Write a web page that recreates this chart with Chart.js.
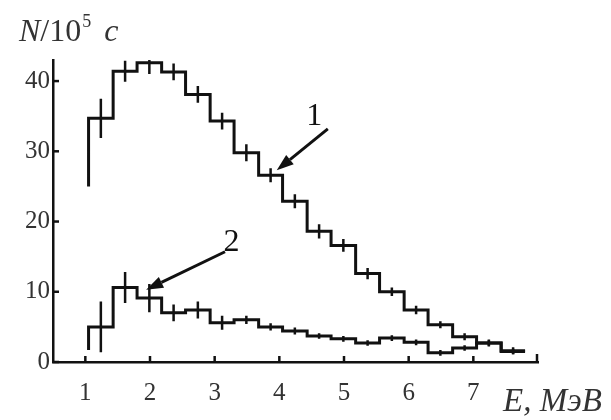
<!DOCTYPE html>
<html>
<head>
<meta charset="utf-8">
<script src="https://cdn.jsdelivr.net/npm/chart.js@4.4.1/dist/chart.umd.min.js"></script>
<style>
  html, body { margin: 0; padding: 0; background: #fff; }
  #wrap { width: 611px; height: 420px; }
</style>
</head>
<body>
<div id="wrap"><canvas id="spectrum" width="611" height="420"></canvas></div>
<script>
// границы каналов по энергии, МэВ
const edges = [1.05, 1.43, 1.80, 2.18, 2.55, 2.93, 3.30, 3.68, 4.05, 4.43, 4.80, 5.18, 5.55, 5.93, 6.30, 6.68, 7.05, 7.43, 7.80];

// спектр 1
const counts1 = [34.7, 41.4, 42.6, 41.3, 38.1, 34.3, 29.8, 26.6, 22.9, 18.6, 16.6, 12.6, 10.0, 7.4, 5.3, 3.6, 2.7, 1.6];
const errors1 = [2.8, 1.5, 1.6, 1.2, 1.2, 1.2, 1.2, 1.0, 1.0, 1.0, 0.9, 0.8, 0.6, 0.6, 0.5, 0.5, 0.5, 0.5];
const start1 = 25;

// спектр 2
const counts2 = [5.0, 10.6, 9.1, 7.0, 7.4, 5.6, 6.0, 5.0, 4.4, 3.7, 3.3, 2.7, 3.4, 2.8, 1.3, 2.0, 2.7, 1.5];
const errors2 = [3.6, 2.2, 2.0, 1.2, 1.2, 1.0, 0.6, 0.5, 0.5, 0.4, 0.4, 0.4, 0.4, 0.4, 0.4, 0.4, 0.4, 0.4];
const start2 = 1.7;

const xTicks = [1, 2, 3, 4, 5, 6, 7];
const yTicks = [0, 10, 20, 30, 40];

// стрелки с номерами кривых: подпись, хвост, острие (в единицах осей)
const notes = [
    { text: '1', label: [4.54, 35.0], from: [4.75, 33.2], to: [3.96, 27.3] },
    { text: '2', label: [3.26, 17.0], from: [3.16, 15.7], to: [1.94, 10.3] }
];

const SERIF = '"Liberation Serif", "Times New Roman", Times, serif';
const INK = '#111';

function stepPoints(values, start) {
    const pts = [{ x: edges[0], y: start }];
    values.forEach((v, i) => {
        pts.push({ x: edges[i], y: v });
        pts.push({ x: edges[i + 1], y: v });
    });
    return pts;
}

function errorPoints(values, errs) {
    const pts = [];
    values.forEach((v, i) => {
        const c = (edges[i] + edges[i + 1]) / 2;
        pts.push({ x: c, y: v - errs[i] });
        pts.push({ x: c, y: v + errs[i] });
        pts.push({ x: c, y: null });
    });
    return pts;
}

function histLine(data, width) {
    return {
        data: data,
        borderColor: INK,
        borderWidth: width,
        pointRadius: 0,
        tension: 0,
        spanGaps: false,
        fill: false
    };
}

// засечки внутрь, стрелки и подписи осей
const decorations = {
    id: 'decorations',
    afterDatasetsDraw(chart) {
        const ctx = chart.ctx;
        const x = chart.scales.x;
        const y = chart.scales.y;
        const area = chart.chartArea;
        ctx.save();
        ctx.strokeStyle = INK;
        ctx.fillStyle = INK;
        ctx.lineWidth = 2.5;
        ctx.lineCap = 'butt';

        yTicks.forEach(v => {
            const py = y.getPixelForValue(v);
            ctx.beginPath();
            ctx.moveTo(area.left, py);
            ctx.lineTo(area.left + 6, py);
            ctx.stroke();
        });
        xTicks.forEach(v => {
            const px = x.getPixelForValue(v);
            ctx.beginPath();
            ctx.moveTo(px, area.bottom);
            ctx.lineTo(px, area.bottom - 6);
            ctx.stroke();
        });
        ctx.beginPath();
        ctx.moveTo(area.right - 1, area.bottom);
        ctx.lineTo(area.right - 1, area.bottom - 8);
        ctx.stroke();

        notes.forEach(n => {
            const x0 = x.getPixelForValue(n.from[0]), y0 = y.getPixelForValue(n.from[1]);
            const x1 = x.getPixelForValue(n.to[0]), y1 = y.getPixelForValue(n.to[1]);
            const ang = Math.atan2(y1 - y0, x1 - x0);
            const head = 17, half = 6;
            const bx = x1 - head * Math.cos(ang), by = y1 - head * Math.sin(ang);
            ctx.lineWidth = 3;
            ctx.beginPath();
            ctx.moveTo(x0, y0);
            ctx.lineTo(bx, by);
            ctx.stroke();
            ctx.beginPath();
            ctx.moveTo(x1, y1);
            ctx.lineTo(bx + half * Math.sin(ang), by - half * Math.cos(ang));
            ctx.lineTo(bx - half * Math.sin(ang), by + half * Math.cos(ang));
            ctx.closePath();
            ctx.fill();

            ctx.font = '32px ' + SERIF;
            ctx.textAlign = 'center';
            ctx.textBaseline = 'middle';
            ctx.fillText(n.text, x.getPixelForValue(n.label[0]), y.getPixelForValue(n.label[1]));
        });

        // подпись оси Y: N/10^5 c
        ctx.textAlign = 'left';
        ctx.textBaseline = 'alphabetic';
        ctx.fillStyle = '#333';
        let cx = 19;
        const base = 41;
        ctx.font = 'italic 32px ' + SERIF;
        ctx.fillText('N', cx, base); cx += ctx.measureText('N').width;
        ctx.font = '32px ' + SERIF;
        ctx.fillText('/10', cx, base); cx += ctx.measureText('/10').width;
        ctx.font = '18px ' + SERIF;
        ctx.fillText('5', cx + 1, base - 14); cx += ctx.measureText('5').width + 14;
        ctx.font = 'italic 32px ' + SERIF;
        ctx.fillText('c', cx, base);

        // подпись оси X
        ctx.font = 'italic 33px ' + SERIF;
        ctx.fillText('E, МэВ', 503, 411);
        ctx.restore();
    }
};

function drawChart() {
    new Chart(document.getElementById('spectrum'), {
        type: 'line',
        data: {
            datasets: [
                histLine(stepPoints(counts1, start1), 3),
                histLine(errorPoints(counts1, errors1), 2.5),
                histLine(stepPoints(counts2, start2), 3),
                histLine(errorPoints(counts2, errors2), 2.5)
            ]
        },
        options: {
            responsive: false,
            animation: false,
            layout: { padding: { top: 60, right: 73, left: 0, bottom: 0 } },
            plugins: {
                legend: { display: false },
                tooltip: { enabled: false }
            },
            scales: {
                x: {
                    type: 'linear',
                    min: 0.5,
                    max: 8.0,
                    afterFit: s => { s.height = 58; },
                    afterBuildTicks: s => { s.ticks = xTicks.map(v => ({ value: v })); },
                    grid: { display: false, drawTicks: false },
                    border: { display: true, color: INK, width: 2.5 },
                    ticks: {
                        padding: 16,
                        color: '#333',
                        font: { family: SERIF, size: 25 },
                        maxRotation: 0
                    }
                },
                y: {
                    min: 0,
                    max: 43,
                    afterFit: s => { s.width = 53; },
                    afterBuildTicks: s => { s.ticks = yTicks.map(v => ({ value: v })); },
                    grid: { display: false, drawTicks: false },
                    border: { display: true, color: INK, width: 2.5 },
                    ticks: {
                        padding: 3,
                        color: '#333',
                        font: { family: SERIF, size: 25 }
                    }
                }
            }
        },
        plugins: [decorations]
    });
}

// шрифт подгружаем заранее, иначе canvas рисует запасным
Promise.all([
    document.fonts.load('25px "Liberation Serif"'),
    document.fonts.load('italic 32px "Liberation Serif"')
]).then(drawChart, drawChart);
</script>
</body>
</html>
